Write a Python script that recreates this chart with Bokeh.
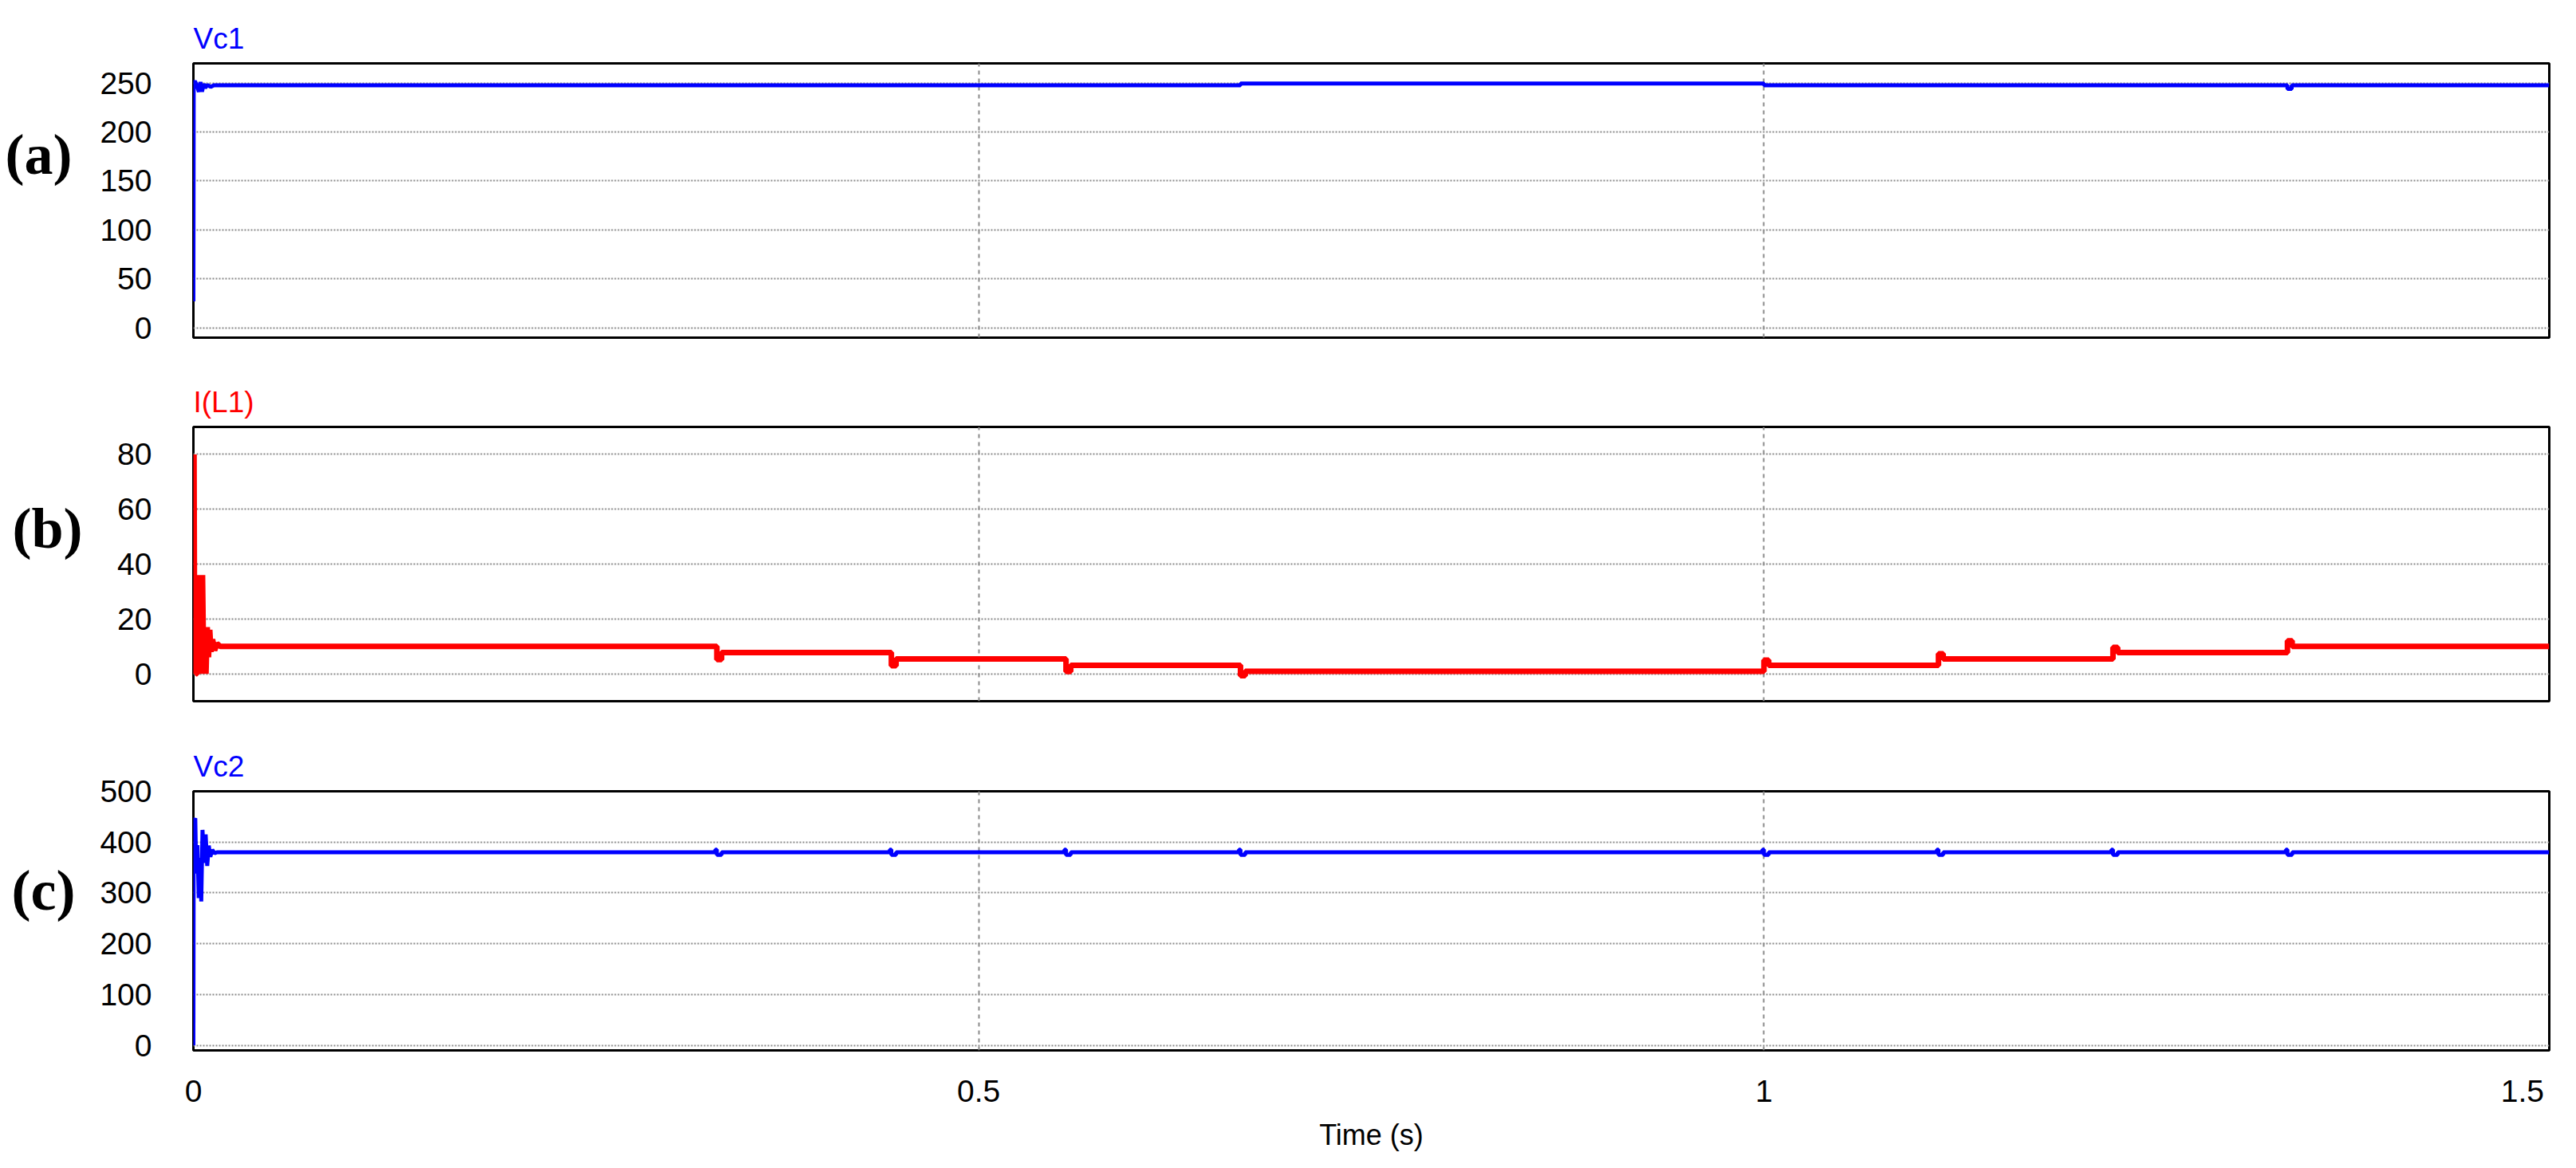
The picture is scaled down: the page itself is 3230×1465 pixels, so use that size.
from bokeh.plotting import figure
from bokeh.layouts import column, row
from bokeh.models import Range1d, FixedTicker
from bokeh.core.properties import value
from bokeh.embed import file_html
from bokeh.resources import INLINE

# ---------------- data ----------------
x_ticks = [0, 0.5, 1.0, 1.5]
x_tick_labels = ["0", "0.5", "1", "1.5\u00a0\u00a0\u00a0"]

vc1_ticks = [0, 50, 100, 150, 200, 250]
il1_ticks = [0, 20, 40, 60, 80]
vc2_ticks = [0, 100, 200, 300, 400, 500]

panel_tags = ["(a)", "(b)", "(c)"]

# Vc1 (V)
vc1_t = [0.0, 0.0002, 0.0010, 0.0025, 0.0035, 0.0045, 0.0055, 0.0065, 0.0075, 0.0090,
         0.0110, 0.0130, 0.6667, 0.6667, 1.0000, 1.0000, 1.3333, 1.3333, 1.3360,
         1.3360, 1.5]
vc1_v = [27, 250, 252, 246, 241, 251, 241, 249, 245, 248,
         246, 247.6, 247.6, 249.5, 249.5, 247.6, 247.6, 244, 244,
         247.6, 247.6]

# I(L1) (A) start-up transient
il1_t0 = [0.0, 0.0004, 0.0008, 0.0012, 0.0018, 0.0024, 0.0038, 0.0052, 0.0058, 0.0066,
          0.0072, 0.0080, 0.0088, 0.0096, 0.0104, 0.0112, 0.0122, 0.0135, 0.0150, 0.0170]
il1_v0 = [0, 80, 0, 28.5, 0, 0, 36, 0, 36, 0,
          17, 0, 17, 6, 16, 8, 12.6, 8.5, 11, 10]
# I(L1) load steps
step_t = [0.3333, 0.4444, 0.5556, 0.6667, 1.0000, 1.1111, 1.2222, 1.3333]
il1_from = [10.0, 7.7, 5.4, 3.1, 0.9, 3.1, 5.4, 7.7]
il1_peak = [5.2, 2.9, 0.8, -0.7, 5.0, 7.3, 9.6, 12.0]
il1_to = [7.7, 5.4, 3.1, 0.9, 3.1, 5.4, 7.7, 10.0]

# Vc2 (V) start-up transient
vc2_t0 = [0.0, 0.0002, 0.0012, 0.0018, 0.0026, 0.0034, 0.0042, 0.0050, 0.0058, 0.0068,
          0.0078, 0.0088, 0.0098, 0.0108, 0.0120, 0.0135, 0.0150]
vc2_v0 = [0, 440, 447, 338, 394, 290, 369, 283, 424, 359,
          415, 353, 393, 371, 385, 378, 380]
vc2_level = [380, 380, 380, 380, 380, 380, 380, 380]
vc2_hi = [385, 385, 385, 385, 385, 385, 385, 385]
vc2_lo = [375, 375, 375, 375, 375, 375, 375, 375]

T_END = 1.5

# ---------------- assemble traces ----------------
il1_t, il1_v = list(il1_t0), list(il1_v0)
for t, a, pk, b in zip(step_t, il1_from, il1_peak, il1_to):
    il1_t += [t, t, t + 0.003, t + 0.003]
    il1_v += [a, pk, pk, b]
il1_t.append(T_END)
il1_v.append(il1_to[-1])

vc2_t, vc2_v = list(vc2_t0), list(vc2_v0)
for t, lv, hi, lo in zip(step_t, vc2_level, vc2_hi, vc2_lo):
    vc2_t += [t - 0.001, t - 0.001, t, t, t + 0.003, t + 0.003]
    vc2_v += [lv, hi, hi, lo, lo, lv]
vc2_t.append(T_END)
vc2_v.append(vc2_level[-1])

# ---------------- styling helpers ----------------
FONT = "Liberation Sans"
GRID = "#8a8a8a"
x_range = Range1d(0, 1.5)
TAG_W = 110


def make_panel(title, color, y0, y1, yticks, frame_h, top, bottom, show_x):
    p = figure(frame_width=2954, frame_height=frame_h, x_range=x_range,
               y_range=Range1d(y0, y1), output_backend="svg", toolbar_location=None,
               min_border_left=242 - TAG_W, min_border_right=26, min_border_top=top,
               min_border_bottom=bottom)
    p.title.text = title
    p.title.text_color = color
    p.title.text_font = FONT
    p.title.text_font_style = "normal"
    p.title.text_font_size = "37px"
    p.title.align = "left"
    p.title.standoff = 22
    p.outline_line_color = "black"
    p.outline_line_width = 3
    p.background_fill_color = "white"
    p.border_fill_color = "white"

    p.yaxis.ticker = FixedTicker(ticks=yticks)
    p.yaxis.major_label_overrides = {v: str(v) for v in yticks}
    p.yaxis.major_label_text_font = FONT
    p.yaxis.major_label_text_font_size = "39px"
    p.yaxis.major_label_text_color = "black"
    p.yaxis.axis_line_color = None
    p.yaxis.major_tick_line_color = None
    p.yaxis.minor_tick_line_color = None
    p.yaxis.major_label_standoff = 46

    p.xaxis.ticker = FixedTicker(ticks=x_ticks)
    p.xgrid.ticker = FixedTicker(ticks=[0.5, 1.0])
    p.xgrid.grid_line_color = GRID
    p.xgrid.grid_line_width = 2
    p.xgrid.grid_line_dash = "5 5"
    p.ygrid.grid_line_color = GRID
    p.ygrid.grid_line_width = 2
    p.ygrid.grid_line_dash = "2 2"

    if show_x:
        p.xaxis.major_label_overrides = dict(zip(x_ticks, x_tick_labels))
        p.xaxis.major_label_text_font = FONT
        p.xaxis.major_label_text_font_size = "39px"
        p.xaxis.major_label_text_color = "black"
        p.xaxis.axis_line_color = None
        p.xaxis.major_tick_line_color = None
        p.xaxis.minor_tick_line_color = None
        p.xaxis.major_label_standoff = 23
        p.xaxis.axis_label = "Time (s)"
        p.xaxis.axis_label_text_font = FONT
        p.xaxis.axis_label_text_font_style = "normal"
        p.xaxis.axis_label_text_font_size = "36px"
        p.xaxis.axis_label_text_color = "black"
        p.xaxis.axis_label_standoff = 10
    else:
        p.xaxis.visible = False
    return p


def make_tag(p, tag, tag_x, tag_y, frame_h, top, bottom):
    f = figure(frame_width=TAG_W, frame_height=frame_h, x_range=Range1d(0, TAG_W),
               y_range=p.y_range, output_backend="svg", toolbar_location=None,
               min_border_left=0, min_border_right=0, min_border_top=top,
               min_border_bottom=bottom)
    f.axis.visible = False
    f.grid.visible = False
    f.outline_line_color = None
    f.background_fill_color = "white"
    f.border_fill_color = "white"
    f.text(x=[tag_x], y=[tag_y], text=[tag], text_font=value("Liberation Serif"),
           text_font_style="bold", text_font_size="72px", text_align="center",
           text_baseline="middle", text_color="black")
    return f


pa = make_panel("Vc1", "#0000ff", -10, 270, vc1_ticks, 344, 79, 10, False)
pa.line(vc1_t, vc1_v, line_color="#0000ff", line_width=5)

pb = make_panel("I(L1)", "#ff0000", -10, 90, il1_ticks, 344, 102, 10, False)
pb.line(il1_t, il1_v, line_color="#ff0000", line_width=7)

pc = make_panel("Vc2", "#0000ff", -10, 500, vc2_ticks, 325, 103, 120, True)
pc.line(vc2_t, vc2_v, line_color="#0000ff", line_width=5)

ta = make_tag(pa, panel_tags[0], 48, 177, 344, 79, 10)
tb = make_tag(pb, panel_tags[1], 59, 53, 344, 102, 10)
tc = make_tag(pc, panel_tags[2], 54, 304, 325, 103, 120)

layout = column(row(ta, pa, spacing=0), row(tb, pb, spacing=0), row(tc, pc, spacing=0),
                spacing=0)
open("out.html", "w").write(file_html(layout, INLINE))
